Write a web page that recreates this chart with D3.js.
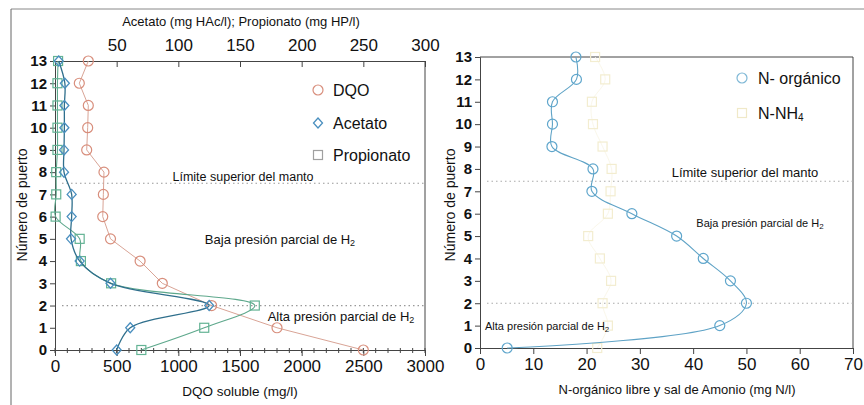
<!DOCTYPE html>
<html>
<head>
<meta charset="utf-8">
<script src="https://cdn.jsdelivr.net/npm/d3@7"></script>
<style>
  html, body { margin: 0; padding: 0; background: #fff; }
  svg { display: block; font-family: "Liberation Sans", Arial, sans-serif; }
</style>
</head>
<body>
<svg id="chart" width="864" height="405"></svg>
<script>
// Sampling ports (Número de puerto)
const ports = [0, 1, 2, 3, 4, 5, 6, 7, 8, 9, 10, 11, 12, 13];

// Left panel: soluble COD (mg/l) and volatile acids (mg/l)
const dqo        = [2500, 1800, 1270, 870, 690, 450, 387, 392, 397, 257, 265, 270, 197, 270];
const acetato    = [50, 61, 125, 45, 20, 13, 13.5, 13.5, 7.3, 7.3, 7.6, 7.6, 8, 3];
const propionato = [70, 121, 162, 45.5, 21, 20, 0.5, 1, 1, 2, 2, 2, 2, 2.5];

// Right panel: organic nitrogen and ammonium (mg N/l)
const nOrganico = [5.1, 45, 50, 47, 41.9, 36.9, 28.5, 21, 21.2, 13.5, 13.6, 13.6, 18.1, 18];
const nNH4      = [22, 24, 23, 24.6, 22.5, 20.3, 24, 24.5, 24.7, 23, 21.2, 21, 23.5, 21.6];

// Tick values
const dqoTicks   = [0, 500, 1000, 1500, 2000, 2500, 3000];
const acidTicks  = [50, 100, 150, 200, 250, 300];
const nTicks     = [0, 10, 20, 30, 40, 50, 60, 70];
const portTicks  = ports;

const svg = d3.select("#chart");
const axisColor = "#444";
const fmt = d3.format("d");

// outer frame lines
svg.append("line").attr("x1", 11).attr("x2", 864).attr("y1", 9).attr("y2", 9)
  .attr("stroke", "#888").attr("stroke-width", 1);
svg.append("line").attr("x1", 11).attr("x2", 11).attr("y1", 9).attr("y2", 405)
  .attr("stroke", "#666").attr("stroke-width", 1);

function styleAxis(g, size, weight) {
  g.select(".domain").attr("stroke", axisColor);
  g.selectAll(".tick line").attr("stroke", axisColor);
  g.selectAll(".tick text").attr("fill", "#111").style("font-size", size + "px")
    .style("font-weight", weight || "normal");
}

function marker(g, type, x, y, color) {
  if (type === "circle") {
    g.append("circle").attr("cx", x).attr("cy", y).attr("r", 5)
      .attr("fill", "none").attr("stroke", color).attr("stroke-width", 1.2);
  } else if (type === "diamond") {
    g.append("path").attr("d", `M${x},${y - 5}L${x + 4.5},${y}L${x},${y + 5}L${x - 4.5},${y}Z`)
      .attr("fill", "none").attr("stroke", color).attr("stroke-width", 1.3);
  } else {
    g.append("rect").attr("x", x - 4.5).attr("y", y - 4.5).attr("width", 9).attr("height", 9)
      .attr("fill", "none").attr("stroke", color).attr("stroke-width", 1.2);
  }
}

function series(g, xs, ys, vals, curve, lineColor, markColor, type, width) {
  const pts = vals.map((v, i) => [xs(v), ys(ports[i])]);
  g.append("path").datum(pts)
    .attr("d", d3.line().curve(curve))
    .attr("fill", "none").attr("stroke", lineColor).attr("stroke-width", width);
  pts.forEach(p => marker(g, type, p[0], p[1], markColor));
}

// ---------------- Left panel ----------------
const L = { x0: 55, x1: 425, y0: 61, y1: 350 };
const xDqo  = d3.scaleLinear().domain([0, 3000]).range([L.x0, L.x1]);
const xAcid = d3.scaleLinear().domain([0, 300]).range([L.x0, L.x1]);
const yL    = d3.scaleLinear().domain([0, 13]).range([L.y1, L.y0]);

const left = svg.append("g");

left.append("line").attr("x1", L.x1).attr("x2", L.x1).attr("y1", L.y0).attr("y2", L.y1)
  .attr("stroke", axisColor);

// reference levels
[7.5, 2].forEach(v => {
  left.append("line").attr("x1", L.x0 + 7).attr("x2", L.x1).attr("y1", yL(v)).attr("y2", yL(v))
    .attr("stroke", "#999").attr("stroke-width", 1.2).attr("stroke-dasharray", "1.5,3");
});

// minor ticks on the COD axis
left.append("g").selectAll("line").data(d3.range(0, 3001, 100)).join("line")
  .attr("x1", d => xDqo(d)).attr("x2", d => xDqo(d))
  .attr("y1", L.y1 - 2).attr("y2", L.y1 + 3).attr("stroke", axisColor);

left.append("g").attr("transform", `translate(0,${L.y1})`)
  .call(d3.axisBottom(xDqo).tickValues(dqoTicks).tickFormat(fmt).tickSize(6).tickPadding(4))
  .call(g => styleAxis(g, 17));

left.append("g").attr("transform", `translate(0,${L.y0})`)
  .call(d3.axisTop(xAcid).tickValues(acidTicks).tickFormat(fmt).tickSize(-6).tickPadding(10))
  .call(g => styleAxis(g, 17));

left.append("g").attr("transform", `translate(${L.x0},0)`)
  .call(d3.axisLeft(yL).tickValues(portTicks).tickFormat(fmt).tickSize(5).tickPadding(3))
  .call(g => styleAxis(g, 15, "bold"));

// data
series(left, xDqo, yL, dqo, d3.curveLinear, "#d9a496", "#d88e7c", "circle", 1);
series(left, xAcid, yL, propionato, d3.curveCatmullRom.alpha(0.5), "#5ea88c", "#63b394", "square", 1.1);
series(left, xAcid, yL, acetato, d3.curveCatmullRom.alpha(0.5), "#2f6f8c", "#4a8fbf", "diamond", 1.3);

// titles
left.append("text").attr("x", 241).attr("y", 26).attr("text-anchor", "middle")
  .style("font-size", "13px").attr("fill", "#111")
  .text("Acetato (mg HAc/l); Propionato (mg HP/l)");
left.append("text").attr("x", 240).attr("y", 396).attr("text-anchor", "middle")
  .style("font-size", "13.5px").attr("fill", "#111").text("DQO soluble (mg/l)");
left.append("text").attr("transform", "translate(27,205) rotate(-90)").attr("text-anchor", "middle")
  .style("font-size", "14px").attr("fill", "#111").text("Número de puerto");

// annotations
left.append("text").attr("x", 243).attr("y", 181).attr("text-anchor", "middle")
  .style("font-size", "12.5px").attr("fill", "#111").text("Límite superior del manto");
const bajaL = left.append("text").attr("x", 280).attr("y", 244).attr("text-anchor", "middle")
  .style("font-size", "13px").attr("fill", "#111").text("Baja presión parcial de H");
bajaL.append("tspan").style("font-size", "9px").attr("dy", 2).text("2");
const altaL = left.append("text").attr("x", 341).attr("y", 321).attr("text-anchor", "middle")
  .style("font-size", "13px").attr("fill", "#111").text("Alta presión parcial de H");
altaL.append("tspan").style("font-size", "9px").attr("dy", 2).text("2");

// legend
const legL = [
  { name: "DQO", type: "circle", color: "#d88e7c", y: 90 },
  { name: "Acetato", type: "diamond", color: "#4a8fbf", y: 123 },
  { name: "Propionato", type: "square", color: "#a0a0a0", y: 155 }
];
legL.forEach(d => {
  marker(left, d.type, 318, d.y, d.color);
  left.append("text").attr("x", 333).attr("y", d.y + 6).style("font-size", "16px")
    .attr("fill", "#111").text(d.name);
});

// ---------------- Right panel ----------------
const R = { x0: 480, x1: 853, y0: 57, y1: 348 };
const xN = d3.scaleLinear().domain([0, 70]).range([R.x0, R.x1]);
const yR = d3.scaleLinear().domain([0, 13]).range([R.y1, R.y0]);

const right = svg.append("g");
right.append("line").attr("x1", R.x0).attr("x2", R.x1).attr("y1", R.y0).attr("y2", R.y0)
  .attr("stroke", axisColor);
right.append("line").attr("x1", R.x1).attr("x2", R.x1).attr("y1", R.y0).attr("y2", R.y1)
  .attr("stroke", axisColor);

[7.45, 2].forEach(v => {
  right.append("line").attr("x1", R.x0 + 7).attr("x2", R.x1).attr("y1", yR(v)).attr("y2", yR(v))
    .attr("stroke", "#aaa").attr("stroke-width", 1.2).attr("stroke-dasharray", "1.5,3");
});

right.append("g").attr("transform", `translate(0,${R.y1})`)
  .call(d3.axisBottom(xN).tickValues(nTicks).tickFormat(fmt).tickSize(6).tickPadding(4))
  .call(g => styleAxis(g, 17));
right.append("g").attr("transform", `translate(${R.x0},0)`)
  .call(d3.axisLeft(yR).tickValues(portTicks).tickFormat(fmt).tickSize(5).tickPadding(3))
  .call(g => styleAxis(g, 15, "bold"));

series(right, xN, yR, nNH4, d3.curveCatmullRom.alpha(0.5), "#faf7ea", "#f3edd0", "square", 1);
series(right, xN, yR, nOrganico, d3.curveCatmullRom.alpha(0.5), "#5fa3c6", "#5fa6cc", "circle", 1.1);

right.append("text").attr("x", 677).attr("y", 394).attr("text-anchor", "middle")
  .style("font-size", "13px").attr("fill", "#111").text("N-orgánico libre y sal de Amonio (mg N/l)");
right.append("text").attr("transform", "translate(455,205) rotate(-90)").attr("text-anchor", "middle")
  .style("font-size", "14px").attr("fill", "#111").text("Número de puerto");

right.append("text").attr("x", 745).attr("y", 177).attr("text-anchor", "middle")
  .style("font-size", "13px").attr("fill", "#111").text("Límite superior del manto");
const bajaR = right.append("text").attr("x", 760).attr("y", 227).attr("text-anchor", "middle")
  .style("font-size", "11px").attr("fill", "#111").text("Baja presión parcial de H");
bajaR.append("tspan").style("font-size", "8px").attr("dy", 2).text("2");
const altaR = right.append("text").attr("x", 485).attr("y", 330)
  .style("font-size", "11px").attr("fill", "#111").text("Alta presión parcial de H");
altaR.append("tspan").style("font-size", "8px").attr("dy", 2).text("2");

const legR = [
  { name: "N- orgánico", type: "circle", color: "#7fb8d6", y: 78 },
  { name: "N-NH", sub: "4", type: "square", color: "#f0e9c8", y: 113 }
];
legR.forEach(d => {
  marker(right, d.type, 742, d.y, d.color);
  const t = right.append("text").attr("x", 758).attr("y", d.y + 6).style("font-size", "16px")
    .attr("fill", "#111").text(d.name);
  if (d.sub) t.append("tspan").style("font-size", "10px").attr("dy", 2).text(d.sub);
});
</script>
</body>
</html>
